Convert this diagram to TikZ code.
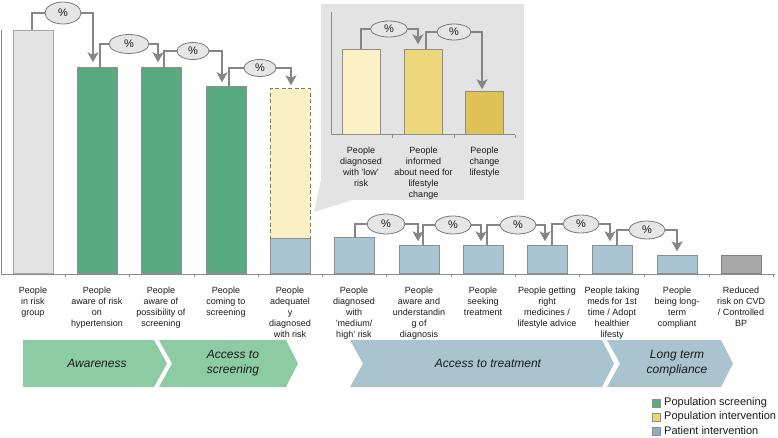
\documentclass[tikz,border=0pt]{standalone}
\usepackage{fontspec}
\setmainfont{Liberation Sans}
\usetikzlibrary{arrows.meta,shapes.geometric}
\definecolor{barline}{HTML}{8E8E8E}
\definecolor{greenbar}{HTML}{58AA80}
\definecolor{bluebar}{HTML}{A9C4D2}
\definecolor{greychev}{HTML}{8DCBA5}
\definecolor{bluechev}{HTML}{A9C3CF}
\definecolor{grey1}{HTML}{E4E4E4}
\definecolor{grey12}{HTML}{A8A8A8}
\definecolor{yeldash}{HTML}{FBF0C3}
\definecolor{dashline}{HTML}{7E7E60}
\definecolor{insetbg}{HTML}{E3E3E3}
\definecolor{yelA}{HTML}{FCF2C6}
\definecolor{yelB}{HTML}{EED67A}
\definecolor{yelC}{HTML}{DFC155}
\definecolor{connc}{HTML}{858585}
\definecolor{pctfill}{HTML}{E6E6E6}
\definecolor{pctline}{HTML}{7A7A7A}
\definecolor{axisc}{HTML}{8C8C8C}
\definecolor{txt}{HTML}{1A1A1A}
\definecolor{leggreen}{HTML}{5DAA84}
\definecolor{legyellow}{HTML}{EBD36E}
\definecolor{legblue}{HTML}{8DAFC0}
\tikzset{
  bar/.style={draw=barline, line width=0.7pt, minimum width=40pt, inner sep=0pt, anchor=south},
  ibar/.style={draw=barline, line width=0.7pt, minimum width=38pt, inner sep=0pt, anchor=south},
  conn/.style={draw=connc, line width=1.6pt},
  arr/.style={conn, -{Stealth[length=10pt,width=11pt,inset=2.5pt]}},
  pct/.style={ellipse, draw=pctline, fill=pctfill, line width=0.8pt, inner sep=0pt, minimum width=34pt, minimum height=18pt, font=\fontsize{11}{12}\selectfont, text=txt},
  lbl/.style={anchor=north, align=center, inner sep=0pt, text=txt, font=\fontsize{9}{11}\selectfont},
  chevtext/.style={align=center, inner sep=0pt, text=txt, font=\fontsize{12}{15}\selectfont\itshape},
  axis/.style={draw=axisc, line width=1pt},
  legsq/.style={draw=barline, line width=0.5pt, minimum size=8pt, inner sep=0pt},
  legtxt/.style={anchor=west, inner sep=0pt, text=txt, font=\fontsize{11}{13}\selectfont}
}
\begin{document}
\begin{tikzpicture}[x=1pt,y=-1pt]
\useasboundingbox (0,0) rectangle (778,438);
% inset panel and wedge
\fill[insetbg] (321,4) rectangle (524,200);
\fill[insetbg] (321,180) -- (314,212) -- (352,200) -- cycle;
% chevrons
\fill[greychev] (23,340) -- (154,340) -- (167,363.5) -- (154,387) -- (23,387) -- cycle;
\fill[greychev] (159,340) -- (286,340) -- (298,363.5) -- (286,387) -- (159,387) -- (172,363.5) -- cycle;
\fill[bluechev] (350,340) -- (602,340) -- (614,363.5) -- (602,387) -- (350,387) -- (363,363.5) -- cycle;
\fill[bluechev] (607,340) -- (721,340) -- (733,363.5) -- (721,387) -- (607,387) -- (620,363.5) -- cycle;
\node[chevtext] (c1) at (97,363.5) {Awareness};
\node[chevtext] (c2) at (233,363.5) {Access to\\screening};
\node[chevtext] (c3) at (488,363.5) {Access to treatment};
\node[chevtext] (c4) at (677,363.5) {Long term\\compliance};
% main axis
\draw[axis] (1,30) -- (1,274) -- (775,274);
\foreach \t in {65,129,194,258,322,386,451,515,579,644,709,773}
  \draw[axis] (\t,274) -- (\t,277);
% main bars
\node[bar, fill=grey1, draw=grey12, minimum height=243pt] (b1) at (33,274) {};
\node[bar, fill=greenbar, minimum height=206pt] (b2) at (97,274) {};
\node[bar, fill=greenbar, minimum height=206pt] (b3) at (161,274) {};
\node[bar, fill=greenbar, minimum height=187pt] (b4) at (226,274) {};
\node[bar, fill=yeldash, draw=dashline, dash pattern=on 4pt off 2.5pt, minimum height=150pt] (b5y) at (290,239) {};
\node[bar, fill=bluebar, minimum height=35pt] (b5) at (290,274) {};
\node[bar, fill=bluebar, minimum height=36pt] (b6) at (354,274) {};
\node[bar, fill=bluebar, minimum height=28pt] (b7) at (419,274) {};
\node[bar, fill=bluebar, minimum height=28pt] (b8) at (483,274) {};
\node[bar, fill=bluebar, minimum height=28pt] (b9) at (547,274) {};
\node[bar, fill=bluebar, minimum height=28pt] (b10) at (612,274) {};
\node[bar, fill=bluebar, minimum height=18pt] (b11) at (677,274) {};
\node[bar, fill=grey12, draw=gray, minimum height=18pt] (b12) at (741,274) {};
% percent ellipses
\node[pct, minimum width=36pt, minimum height=22pt] (e1) at (63,13) {\%};
\node[pct, minimum width=40pt, minimum height=19pt] (e2) at (129,44) {\%};
\node[pct, minimum width=32pt, minimum height=17pt] (e3) at (193,51) {\%};
\node[pct, minimum width=32pt, minimum height=17pt] (e4) at (260,68) {\%};
\node[pct, minimum width=38pt, minimum height=20pt] (e6) at (386,224) {\%};
\node[pct, minimum width=36pt, minimum height=18pt] (e7) at (453,225) {\%};
\node[pct, minimum width=36pt, minimum height=18pt] (e8) at (518,225) {\%};
\node[pct, minimum width=36pt, minimum height=18pt] (e9) at (581,224) {\%};
\node[pct, minimum width=36pt, minimum height=18pt] (e10) at (647,230) {\%};
% connectors
\draw[conn] ([xshift=-1pt]b1.north) |- (e1.west);
\draw[arr] (e1.east) -| ([xshift=-4pt,yshift=5pt]b2.north);
\draw[conn] ([xshift=3pt]b2.north) |- (e2.west);
\draw[arr] (e2.east) -| ([xshift=-3pt,yshift=5pt]b3.north);
\draw[conn] ([xshift=3pt]b3.north) |- (e3.west);
\draw[arr] (e3.east) -| ([xshift=-4pt,yshift=4pt]b4.north);
\draw[conn] ([xshift=3pt]b4.north) |- (e4.west);
\draw[arr] (e4.east) -| ([xshift=1pt,yshift=3pt]b5y.north);
\draw[conn] ([xshift=1pt]b6.north) |- (e6.west);
\draw[arr] (e6.east) -| ([xshift=-1pt,yshift=4pt]b7.north);
\draw[conn] ([xshift=4pt]b7.north) |- (e7.west);
\draw[arr] (e7.east) -| ([xshift=-2pt,yshift=4pt]b8.north);
\draw[conn] ([xshift=4pt]b8.north) |- (e8.west);
\draw[arr] (e8.east) -| ([xshift=-2pt,yshift=4pt]b9.north);
\draw[conn] ([xshift=5pt]b9.north) |- (e9.west);
\draw[arr] (e9.east) -| ([xshift=-2pt,yshift=4pt]b10.north);
\draw[conn] ([xshift=5pt]b10.north) |- (e10.west);
\draw[arr] (e10.east) -| ([yshift=4pt]b11.north);
% main labels
\node[lbl] (l1) at (33,287) {People\\in risk\\group};
\node[lbl] (l2) at (97,287) {People\\aware of risk\\on\\hypertension};
\node[lbl] (l3) at (161,287) {People\\aware of\\possibility of\\screening};
\node[lbl] (l4) at (226,287) {People\\coming to\\screening};
\node[lbl] (l5) at (290,287) {People\\adequatel\\y\\diagnosed\\with risk};
\node[lbl] (l6) at (354,287) {People\\diagnosed\\with\\'medium/\\high' risk};
\node[lbl] (l7) at (419,287) {People\\aware and\\understandin\\g of\\diagnosis};
\node[lbl] (l8) at (483,287) {People\\seeking\\treatment};
\node[lbl] (l9) at (547,287) {People getting\\right\\medicines /\\lifestyle advice};
\node[lbl] (l10) at (612,287) {People taking\\meds for 1st\\time / Adopt\\healthier\\lifesty};
\node[lbl] (l11) at (677,287) {People\\being long-\\term\\compliant};
\node[lbl] (l12) at (741,287) {Reduced\\risk on CVD\\/ Controlled\\BP};
% inset axis
\draw[axis] (331,12) -- (331,135) -- (515,135);
\foreach \t in {392,454,515}
  \draw[axis] (\t,135) -- (\t,138);
% inset bars
\node[ibar, fill=yelA, minimum height=85pt] (ia) at (361,135) {};
\node[ibar, fill=yelB, minimum height=85pt] (ib) at (423.5,135) {};
\node[ibar, fill=yelC, minimum height=43pt] (ic) at (484.5,135) {};
\node[pct, minimum width=37pt, minimum height=16pt] (ie1) at (389,29) {\%};
\node[pct, minimum width=34pt, minimum height=16pt] (ie2) at (454,32) {\%};
\draw[conn] (ia.north) |- (ie1.west);
\draw[arr] (ie1.east) -| ([xshift=-5.5pt,yshift=5pt]ib.north);
\draw[conn] ([xshift=2.5pt]ib.north) |- (ie2.west);
\draw[arr] (ie2.east) -| ([xshift=-2.5pt,yshift=2pt]ic.north);
\node[lbl] (il1) at (361,146.5) {People\\diagnosed\\with 'low'\\risk};
\node[lbl] (il2) at (423.5,146.5) {People\\informed\\about need for\\lifestyle\\change};
\node[lbl] (il3) at (484.5,146.5) {People\\change\\lifestyle};
% legend
\node[legsq, fill=leggreen] (q1) at (656,403) {};
\node[legsq, fill=legyellow] (q2) at (656,417) {};
\node[legsq, fill=legblue] (q3) at (656,431) {};
\node[legtxt] (t1) at (664,403) {Population screening};
\node[legtxt] (t2) at (664,417) {Population intervention};
\node[legtxt] (t3) at (664,431) {Patient intervention};
\end{tikzpicture}
\end{document}
